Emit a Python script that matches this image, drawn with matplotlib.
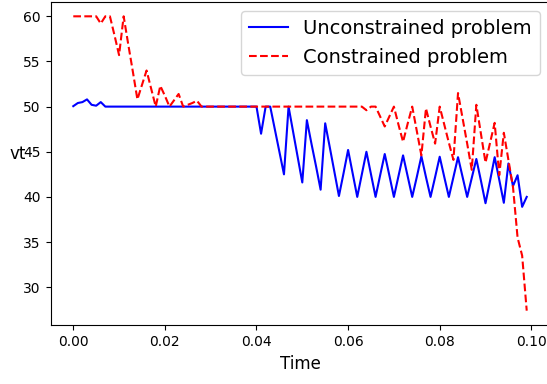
import numpy as np
import matplotlib
matplotlib.use("Agg")
import matplotlib.pyplot as plt

# sample times (s), one sample per millisecond
time = np.arange(100) * 0.001

unconstrained = (
    [50.05, 50.4, 50.5, 50.8, 50.2, 50.1, 50.5]
    + [50.0] * 34
    + [47.0, 50.0, 50.0, 47.5, 45.0, 42.5, 50.0, 47.2, 44.4, 41.6,
       48.5, 45.9, 43.4, 40.8, 48.15, 45.5, 42.8, 40.1, 42.6, 45.2,
       42.6, 40.0, 42.5, 45.0, 42.5, 40.0, 42.4, 44.75, 42.4, 40.0,
       42.3, 44.6, 42.3, 40.0, 42.2, 44.5, 42.2, 40.0, 42.2, 44.45,
       42.2, 40.0, 42.2, 44.4, 42.2, 40.0, 42.1, 44.2, 41.8, 39.3,
       41.8, 44.4, 41.9, 39.35, 43.7, 41.2, 42.4, 38.9, 40.0]
)

constrained = (
    [60.0] * 6
    + [59.2, 60.0, 60.0, 57.9, 55.7, 60.0, 56.9, 53.9, 50.8, 52.4,
       54.0, 52.0, 50.0, 52.3, 51.2, 50.0, 50.7, 51.4, 50.0, 50.2,
       50.4, 50.65]
    + [50.0] * 36
    + [49.6, 50.0, 50.0, 48.9, 47.8, 48.9, 50.0, 48.0, 46.1, 48.1,
       50.0, 47.3, 44.6, 49.8, 47.8, 45.9, 50.0, 48.0, 46.0, 44.1,
       51.5, 48.7, 45.9, 43.0, 50.2, 47.0, 43.8, 46.0, 48.2, 42.4,
       47.1, 44.1, 41.1, 35.5, 33.5, 27.4]
)

assert len(unconstrained) == 100, len(unconstrained)
assert len(constrained) == 100, len(constrained)

labels = ["Unconstrained problem", "Constrained problem"]

W, H = 547, 384
fig = plt.figure(figsize=(W / 100, H / 100), dpi=100)
ax = fig.add_axes([50.6 / W, (H - 325.4) / H, 498.8 / W, 323.8 / H])

ax.plot(time, unconstrained, color="blue", linestyle="-", label=labels[0])
ax.plot(time, constrained, color="red", linestyle="--", label=labels[1])

ax.set_xlabel("Time", fontsize=12)
ax.set_ylabel("vt", rotation=0, fontsize=12)
ax.legend(loc="upper right", fontsize=14)

fig.savefig("out.png", dpi=100)
